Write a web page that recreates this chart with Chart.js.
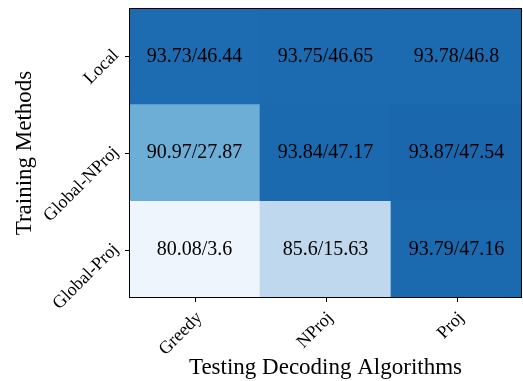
<!DOCTYPE html>
<html>
<head>
<meta charset="utf-8">
<script src="https://cdn.jsdelivr.net/npm/chart.js@4.4.0/dist/chart.umd.min.js"></script>
<style>
  html, body { margin: 0; padding: 0; background: #fff; }
  #wrap { width: 523px; height: 381px; }
</style>
</head>
<body>
<div id="wrap"><canvas id="heat" width="523" height="381"></canvas></div>
<script>
(function () {
  "use strict";
  // top row to bottom row
  const METHODS = ["Local", "Global-NProj", "Global-Proj"];
  const DECODERS = ["Greedy", "NProj", "Proj"];
  const ACC = [
    [93.73, 93.75, 93.78],
    [90.97, 93.84, 93.87],
    [80.08, 85.6, 93.79],
  ];
  const SCORE = [
    [46.44, 46.65, 46.8],
    [27.87, 47.17, 47.54],
    [3.6, 15.63, 47.16],
  ];

  const FONT = "'Liberation Serif', 'DejaVu Serif', serif";
  const BLUES = ["#f7fbff", "#deebf7", "#c6dbef", "#9ecae1", "#6baed6", "#4292c6", "#2171b5", "#08519c", "#08306b"];
  const VMIN = 80, VMAX = 158;

  function hex(h) { return [1, 3, 5].map((i) => parseInt(h.slice(i, i + 2), 16)); }
  function blues(t) {
    t = Math.max(0, Math.min(1, t));
    const p = t * (BLUES.length - 1);
    const i = Math.min(Math.floor(p), BLUES.length - 2);
    const f = p - i;
    const a = hex(BLUES[i]), b = hex(BLUES[i + 1]);
    const c = a.map((v, k) => Math.round(v + (b[k] - v) * f));
    return `rgb(${c[0]},${c[1]},${c[2]})`;
  }
  function cellColor(r, c) { return blues((ACC[r][c] + SCORE[r][c] - VMIN) / (VMAX - VMIN)); }

  // bottom row first for stacking
  const rows = METHODS.map((_, i) => METHODS.length - 1 - i);
  const datasets = rows.map((r) => ({
    label: METHODS[r],
    data: DECODERS.map(() => 1),
    backgroundColor: DECODERS.map((_, c) => cellColor(r, c)),
    borderWidth: 0,
    barPercentage: 1,
    categoryPercentage: 1,
    rowIndex: r,
  }));

  const decorate = {
    id: "decorate",
    afterDatasetsDraw(chart) {
      const ctx = chart.ctx;
      const area = chart.chartArea;
      const xs = chart.scales.x, ys = chart.scales.y;
      ctx.save();
      // cell texts
      ctx.fillStyle = "#000";
      ctx.font = `20px ${FONT}`;
      ctx.textAlign = "center";
      ctx.textBaseline = "middle";
      chart.data.datasets.forEach((ds, di) => {
        const meta = chart.getDatasetMeta(di);
        meta.data.forEach((bar, c) => {
          const r = ds.rowIndex;
          ctx.fillText(`${ACC[r][c]}/${SCORE[r][c]}`, bar.x, (bar.y + bar.base) / 2);
        });
      });
      // frame
      ctx.strokeStyle = "#000";
      ctx.lineWidth = 1;
      ctx.strokeRect(area.left + 0.5, area.top + 0.5, area.right - area.left - 1, area.bottom - area.top - 1);
      // ticks and tick labels
      ctx.font = `18px ${FONT}`;
      ctx.textAlign = "right";
      ctx.textBaseline = "middle";
      DECODERS.forEach((d, c) => {
        const x = Math.round(xs.getPixelForValue(c)) + 0.5;
        ctx.beginPath();
        ctx.moveTo(x, area.bottom);
        ctx.lineTo(x, area.bottom + 4);
        ctx.stroke();
        ctx.save();
        ctx.translate(x + 4, area.bottom + 17);
        ctx.rotate(-Math.PI / 4);
        ctx.fillText(d, 0, 0);
        ctx.restore();
      });
      METHODS.forEach((m, r) => {
        const y = Math.round(ys.getPixelForValue(METHODS.length - r - 0.5)) + 0.5;
        ctx.beginPath();
        ctx.moveTo(area.left - 4, y);
        ctx.lineTo(area.left, y);
        ctx.stroke();
        ctx.save();
        ctx.translate(area.left - 13, y - 4);
        ctx.rotate(-Math.PI / 4);
        ctx.fillText(m, 0, 0);
        ctx.restore();
      });
      // axis titles
      ctx.font = `23px ${FONT}`;
      ctx.textAlign = "center";
      ctx.fillText("Testing Decoding Algorithms", (area.left + area.right) / 2, 368);
      ctx.save();
      ctx.translate(25, (area.top + area.bottom) / 2);
      ctx.rotate(-Math.PI / 2);
      ctx.fillText("Training Methods", 0, 0);
      ctx.restore();
      ctx.restore();
    },
  };

  new Chart(document.getElementById("heat").getContext("2d"), {
    type: "bar",
    data: { labels: DECODERS, datasets: datasets },
    options: {
      responsive: false, animation: false, devicePixelRatio: 1,
      layout: { padding: { left: 129, top: 8, right: 1, bottom: 83 } },
      scales: {
        x: { display: false, stacked: true },
        y: { display: false, stacked: true, min: 0, max: 3 },
      },
      plugins: { legend: { display: false }, tooltip: { enabled: false } },
    },
    plugins: [decorate],
  });
})();
</script>
</body>
</html>
